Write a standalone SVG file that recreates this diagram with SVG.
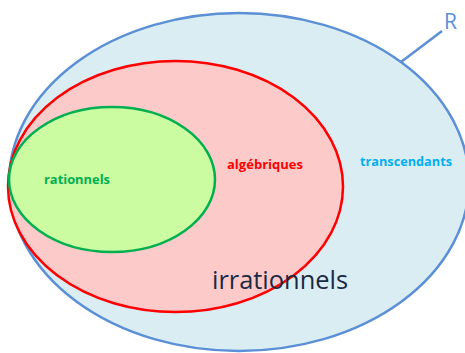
<svg xmlns="http://www.w3.org/2000/svg" width="465" height="353" viewBox="0 0 465 353">
<style>
.lbl{font-family:"Open Sans","Noto Sans","Liberation Sans",sans-serif;font-weight:bold;font-size:13px}
</style>
<rect width="465" height="353" fill="#ffffff"/>
<g id="reels">
<ellipse cx="239" cy="182" rx="230" ry="169" fill="#daedf3" stroke="#5b8fd6" stroke-width="2.5"/>
</g>
<g id="algebriques">
<ellipse cx="175.5" cy="186.5" rx="167.5" ry="125.5" fill="#fdcaca" stroke="#ff0000" stroke-width="2.5"/>
</g>
<g id="rationnels">
<ellipse cx="112" cy="179.5" rx="103" ry="72.5" fill="#ccfca2" stroke="#00b050" stroke-width="2.5"/>
</g>
<g id="connectors">
<line x1="401" y1="62" x2="442" y2="31" stroke="#5b8fd6" stroke-width="2.5"/>
</g>
<g id="labels">
<text x="444" y="29" font-family="Open Sans,Noto Sans,sans-serif" font-size="21" fill="#5b8fd6" textLength="13" lengthAdjust="spacingAndGlyphs">R</text>
<text class="lbl" x="44" y="184" fill="#00b050" textLength="66" lengthAdjust="spacingAndGlyphs">rationnels</text>
<text class="lbl" x="227" y="169" fill="#ff0000" textLength="76" lengthAdjust="spacingAndGlyphs">algébriques</text>
<text class="lbl" x="360" y="166" fill="#00b0f0" textLength="92" lengthAdjust="spacingAndGlyphs">transcendants</text>
<text x="212" y="289" font-family="Open Sans,Noto Sans,sans-serif" font-size="25" fill="#1a2a44" textLength="136" lengthAdjust="spacingAndGlyphs">irrationnels</text>
</g>
</svg>
